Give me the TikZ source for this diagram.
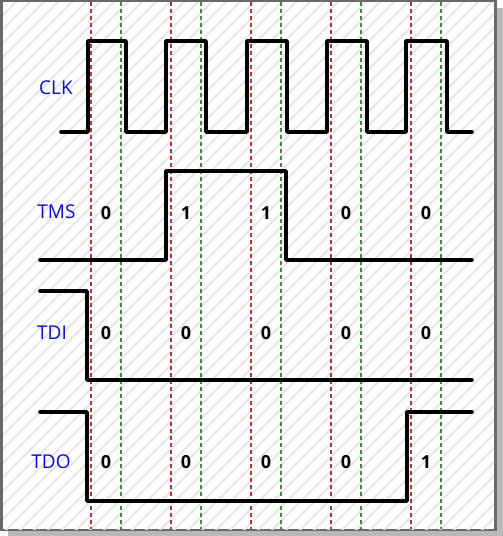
\documentclass[tikz,border=0pt]{standalone}
\usepackage{fontspec}
\setmainfont{Open Sans}
\definecolor{labelblue}{RGB}{10,10,210}
\definecolor{dred}{RGB}{170,55,55}
\definecolor{dgreen}{RGB}{60,140,60}
\definecolor{framegray}{RGB}{105,105,105}
\definecolor{hatchgray}{RGB}{230,230,230}
\begin{document}
\begin{tikzpicture}[x=1pt,y=-1pt,
  sig/.style={line width=3.6pt, line join=round, line cap=round, black},
  lbl/.style={text=labelblue, font=\fontsize{19}{22}\selectfont, inner sep=0pt},
  bit/.style={text=black, font=\fontsize{18}{22}\selectfont\bfseries, inner sep=0pt},
  redline/.style={dred, line width=1.1pt, dash pattern=on 4pt off 3pt},
  greenline/.style={dgreen, line width=1.1pt, dash pattern=on 4pt off 3pt}]
\useasboundingbox (0,0) rectangle (503,536);
% frame and shadow
\fill[white] (0,0) rectangle (503,536);
\fill[gray!55] (8,530) rectangle (503,536);
\fill[gray!55] (497,8) rectangle (503,536);
\fill[framegray] (0,0) rectangle (497,531);
\fill[white] (3,2) rectangle (494,529);
% hatch
\begin{scope}
\clip (3,2) rectangle (494,529);
\foreach \k in {-546,-532,...,510}
  \draw[hatchgray, line width=1.8pt] (\k,536) -- (\k+536,0);
\end{scope}
% dashed grid
\foreach \x in {91,171,251,331,411}
  \draw[redline] (\x,2) -- (\x,529);
\foreach \x in {121,201,281,361,441}
  \draw[greenline] (\x,2) -- (\x,529);
% signals
\draw[sig] (61,132) -- (88,132) -- (88,41) -- (126,41) -- (126,132) -- (166,132) -- (166,41) -- (206,41) -- (206,132) -- (247,132) -- (247,41) -- (287,41) -- (287,132) -- (327,132) -- (327,41) -- (367,41) -- (367,132) -- (406,132) -- (406,41) -- (447,41) -- (447,132) -- (472,132);
\draw[sig] (40,260) -- (166,260) -- (166,171) -- (286,171) -- (286,260) -- (472,260);
\draw[sig] (40,291) -- (87,291) -- (87,380) -- (472,380);
\draw[sig] (40,412) -- (87,412) -- (87,501) -- (407,501) -- (407,412) -- (472,412);
% labels
\node[lbl] (clk) at (56,88) {CLK};
\node[lbl] (tms) at (56.5,212) {TMS};
\node[lbl] (tdi) at (52,333) {TDI};
\node[lbl] (tdo) at (51,462) {TDO};
% bits
\node[bit] (tms1) at (106,213) {0};
\node[bit] (tms2) at (186,213) {1};
\node[bit] (tms3) at (266,213) {1};
\node[bit] (tms4) at (346,213) {0};
\node[bit] (tms5) at (426,213) {0};
\foreach \x/\n in {106/1,186/2,266/3,346/4,426/5}
  \node[bit] (tdi\n) at (\x,333) {0};
\node[bit] (tdo1) at (106,462) {0};
\node[bit] (tdo2) at (186,462) {0};
\node[bit] (tdo3) at (266,462) {0};
\node[bit] (tdo4) at (346,462) {0};
\node[bit] (tdo5) at (426,462) {1};
\end{tikzpicture}
\end{document}
